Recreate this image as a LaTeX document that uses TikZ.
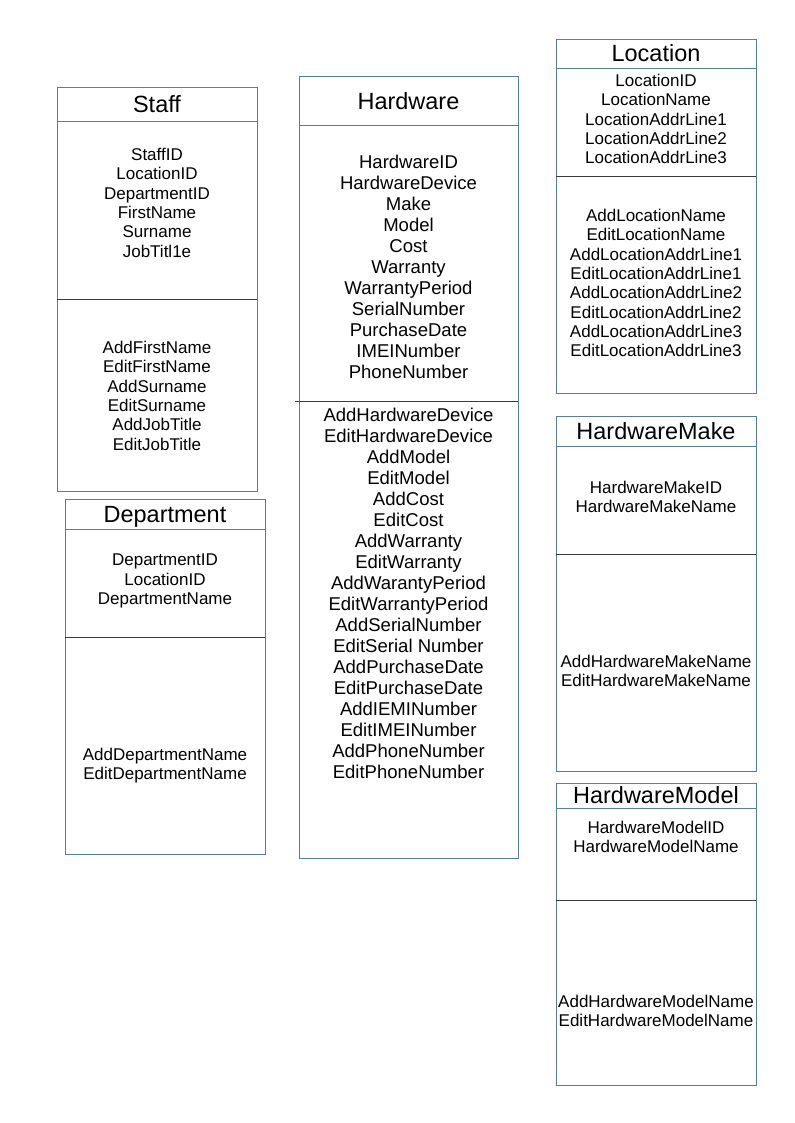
\documentclass[tikz,border=0pt]{standalone}
\usepackage{fontspec}
\setmainfont{Liberation Sans}
\usetikzlibrary{positioning}
\definecolor{boxblue}{HTML}{577AA6}
\definecolor{divgrey}{HTML}{3A3A3A}

\begin{document}
\begin{tikzpicture}[x=0.75pt,y=-0.75pt,
	box/.style={draw=boxblue,line width=0.65pt},
	bar/.style={draw=divgrey,line width=0.65pt},
	title/.style={anchor=base,inner sep=0pt,font=\fontsize{17.6}{20}\selectfont},
	attr/.style={anchor=north,inner sep=0pt,align=center,font=\fontsize{12.75}{14.5}\selectfont},
	bigattr/.style={anchor=north,inner sep=0pt,align=center,font=\fontsize{13.9}{15.75}\selectfont}]
	\useasboundingbox (0,0) rectangle (794,1123);

	% Staff
	\draw[box] (57,87) rectangle (257,491);
	\draw[box] (57,121) -- (257,121);
	\draw[bar] (57,299) -- (257,299);
	\node[title] (staff) at (157,112.5) {Staff};
	\node[attr] (staff_a) at (157,148) {StaffID\\LocationID\\DepartmentID\\FirstName\\Surname\\JobTitl1e};
	\node[attr] (staff_o) at (157,341) {AddFirstName\\EditFirstName\\AddSurname\\EditSurname\\AddJobTitle\\EditJobTitle};

	% Department
	\draw[box] (65,499) rectangle (265,854);
	\draw[box] (65,529) -- (265,529);
	\draw[bar] (65,637) -- (265,637);
	\node[title] (dept) at (165,522.5) {Department};
	\node[attr] (dept_a) at (165,554) {DepartmentID\\LocationID\\DepartmentName};
	\node[attr] (dept_o) at (165,748) {AddDepartmentName\\EditDepartmentName};

	% Hardware
	\draw[box] (299,76) rectangle (518,858);
	\draw[box] (299,125) -- (518,125);
	\draw[bar] (295,401) -- (518,401);
	\node[title] (hw) at (408.5,109.5) {Hardware};
	\node[bigattr] (hw_a) at (408.5,155.3) {HardwareID\\HardwareDevice\\Make\\Model\\Cost\\Warranty\\WarrantyPeriod\\SerialNumber\\PurchaseDate\\IMEINumber\\PhoneNumber};
	\node[bigattr] (hw_o) at (408.5,407.3) {AddHardwareDevice\\EditHardwareDevice\\AddModel\\EditModel\\AddCost\\EditCost\\AddWarranty\\EditWarranty\\AddWarantyPeriod\\EditWarrantyPeriod\\AddSerialNumber\\EditSerial Number\\AddPurchaseDate\\EditPurchaseDate\\AddIEMINumber\\EditIMEINumber\\AddPhoneNumber\\EditPhoneNumber};

	% Location
	\draw[box] (556,39) rectangle (756,393);
	\draw[box] (556,68) -- (756,68);
	\draw[bar] (556,176) -- (756,176);
	\node[title] (loc) at (656,61.5) {Location};
	\node[attr] (loc_a) at (656,74) {LocationID\\LocationName\\LocationAddrLine1\\LocationAddrLine2\\LocationAddrLine3};
	\node[attr] (loc_o) at (656,209) {AddLocationName\\EditLocationName\\AddLocationAddrLine1\\EditLocationAddrLine1\\AddLocationAddrLine2\\EditLocationAddrLine2\\AddLocationAddrLine3\\EditLocationAddrLine3};

	% HardwareMake
	\draw[box] (556,416) rectangle (756,771);
	\draw[box] (556,446) -- (756,446);
	\draw[bar] (556,554) -- (756,554);
	\node[title] (make) at (656,439.5) {HardwareMake};
	\node[attr] (make_a) at (656,481) {HardwareMakeID\\HardwareMakeName};
	\node[attr] (make_o) at (656,655) {AddHardwareMakeName\\EditHardwareMakeName};

	% HardwareModel
	\draw[box] (556,783) rectangle (756,1085);
	\draw[box] (556,808) -- (756,808);
	\draw[bar] (556,900) -- (756,900);
	\node[title] (model) at (656,803.5) {HardwareModel};
	\node[attr] (model_a) at (656,821) {HardwareModelID\\HardwareModelName};
	\node[attr] (model_o) at (656,995) {AddHardwareModelName\\EditHardwareModelName};
\end{tikzpicture}
\end{document}
